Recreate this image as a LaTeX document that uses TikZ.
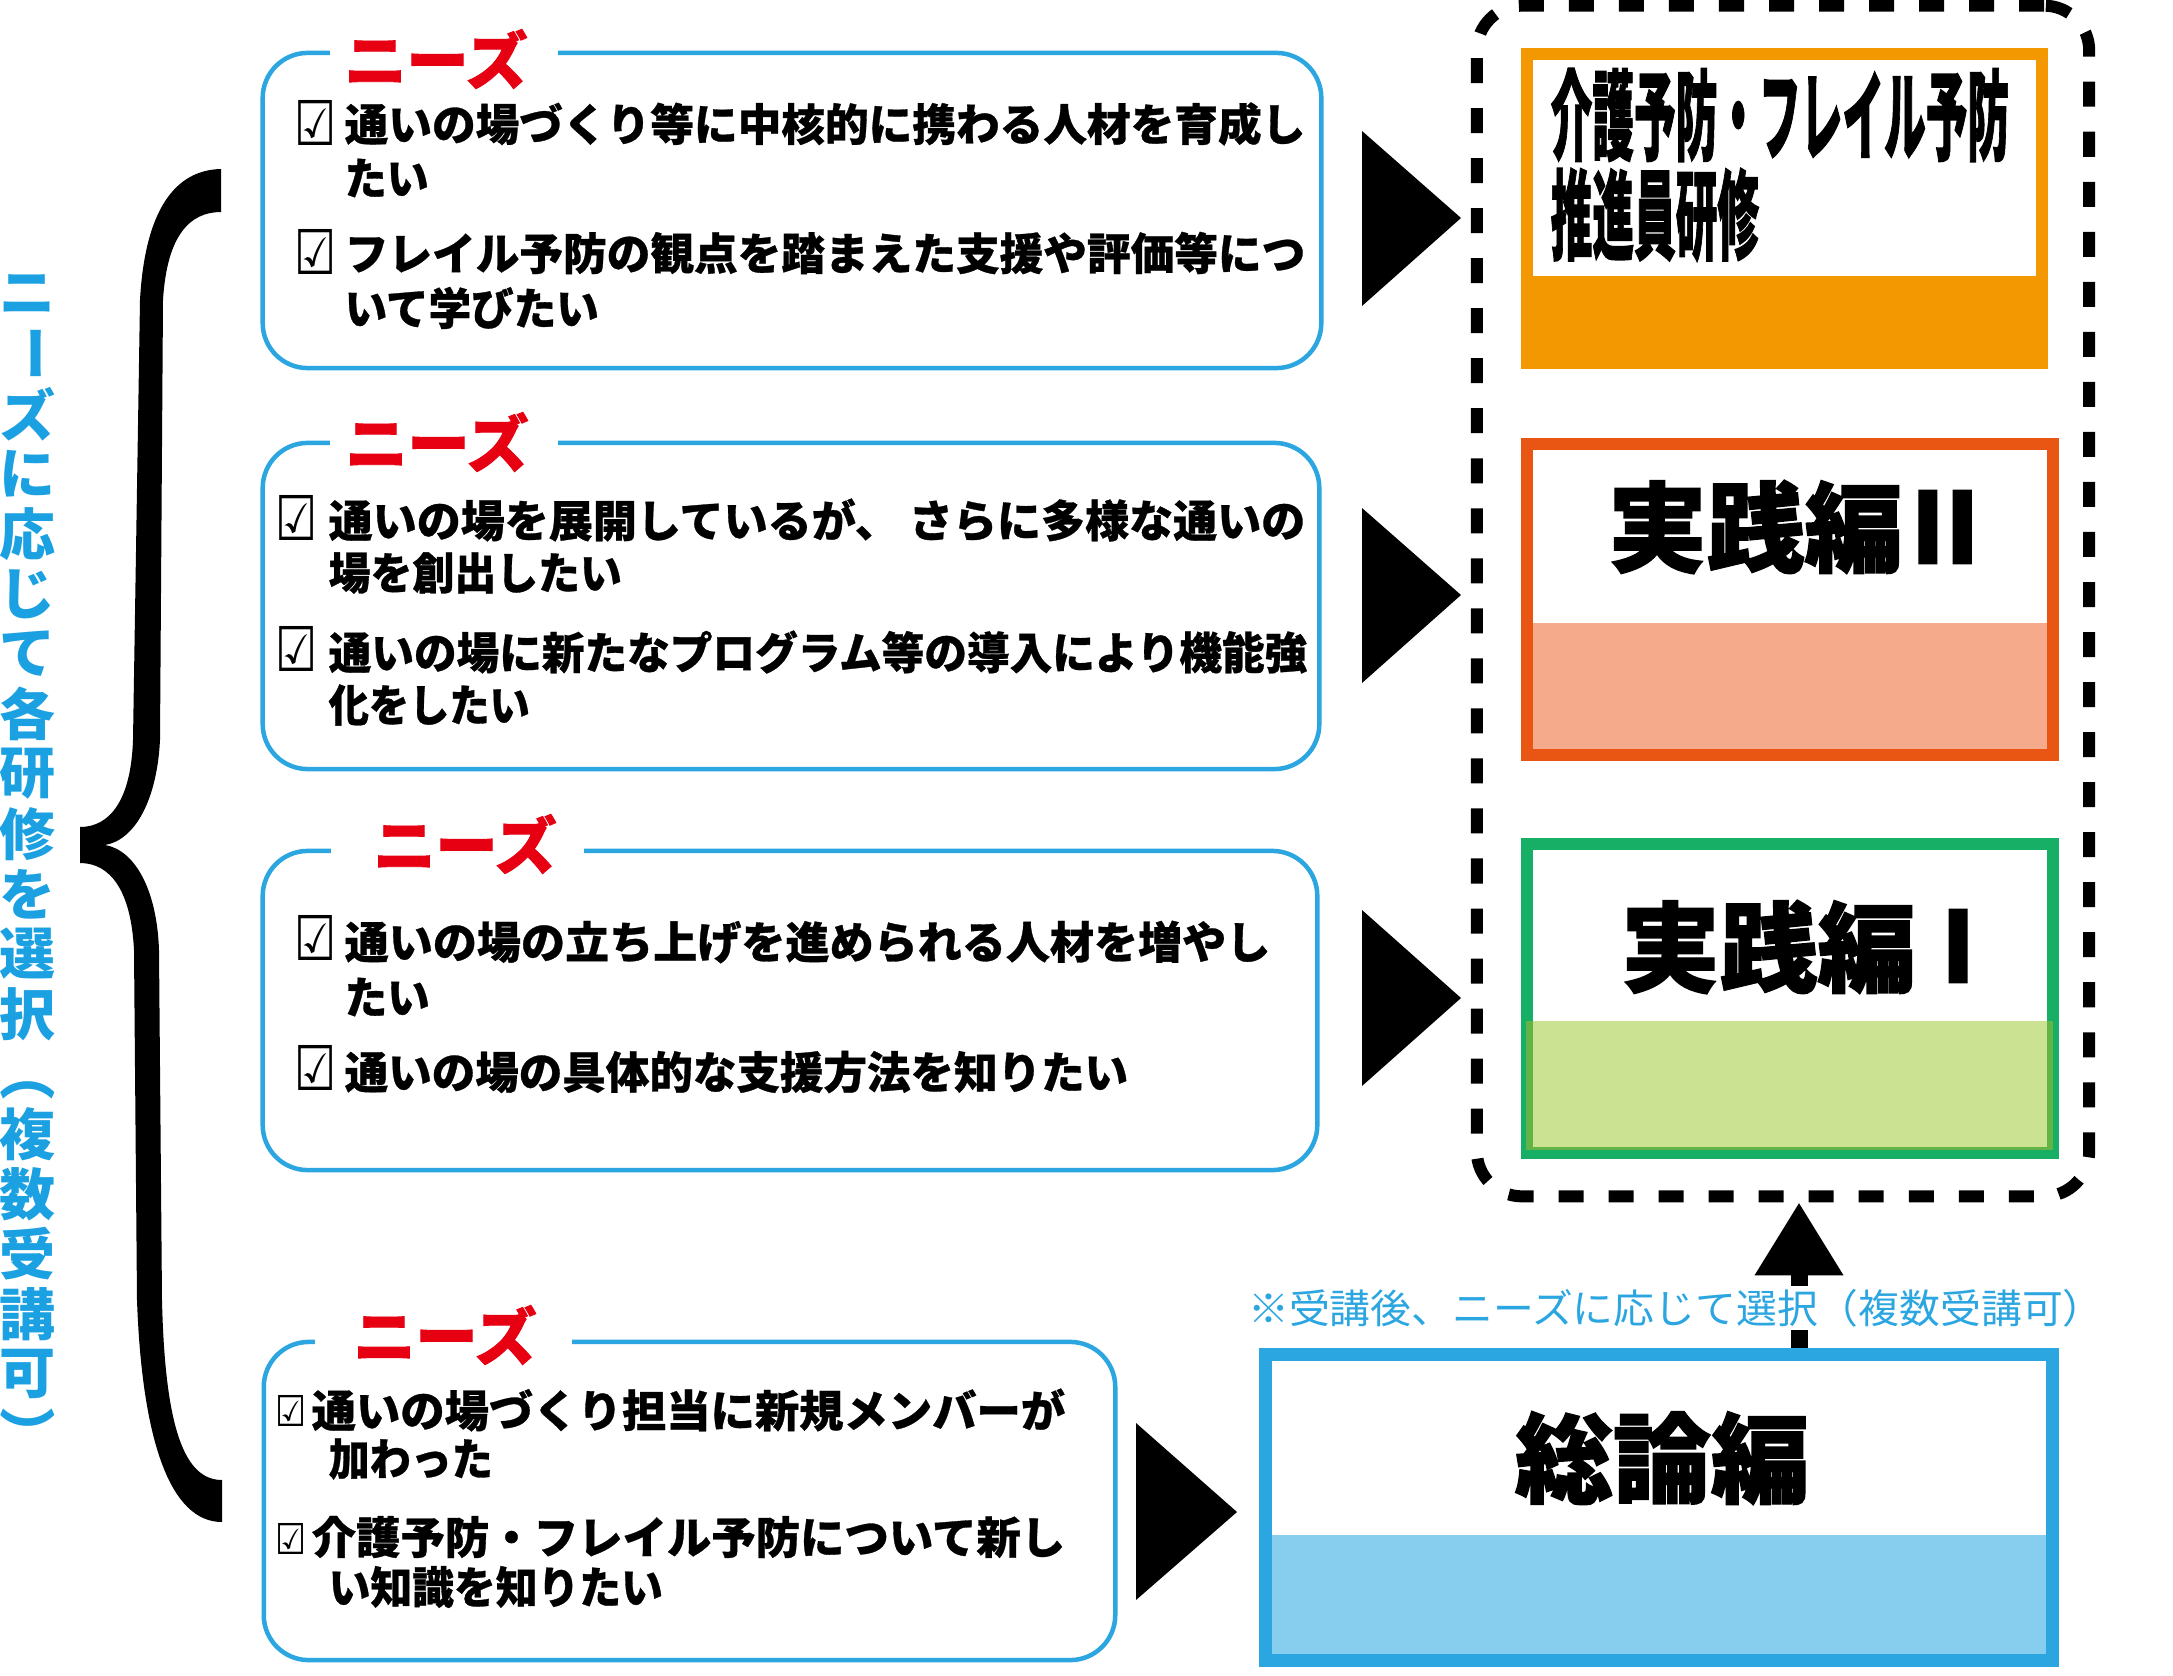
\documentclass[tikz,border=0pt]{standalone}
\usepackage{fontspec}
\usepackage{graphicx}
\usetikzlibrary{arrows.meta}
\newfontfamily\jp{Noto Sans CJK JP}
\newfontfamily\jpb{Noto Sans CJK JP}[BoldFeatures={FakeBold=0.7}]
\newfontfamily\jph{Noto Sans CJK JP}[BoldFeatures={FakeBold=1.5}]
\newfontfamily\dv{DejaVu Sans}
\definecolor{lineblue}{HTML}{2CA6E0}
\definecolor{vblue}{HTML}{1BA1E2}
\definecolor{nred}{HTML}{E60012}
\definecolor{korange}{HTML}{F39800}
\definecolor{jtwored}{HTML}{E95513}
\definecolor{jtwosalmon}{HTML}{F4AA8B}
\definecolor{jonegreen}{HTML}{17AE66}
\definecolor{jonelime}{HTML}{CAE292}
\definecolor{joneolive}{HTML}{62B446}
\definecolor{slight}{HTML}{86CDEE}
\newcommand{\vrot}[1]{\rotatebox[origin=c]{-90}{#1}}
\newcommand{\fitw}[2]{\resizebox{#1}{\height}{#2}}
\newcommand{\cbig}{\resizebox*{0.42cm}{0.45cm}{\dv ☑}}
\newcommand{\csmall}{\resizebox*{0.31cm}{0.31cm}{\dv ☑}}
\begin{document}
\begin{tikzpicture}[x=0.01cm,y=-0.01cm,
  needbox/.style={draw=lineblue, line width=0.045cm, rounded corners=0.45cm, inner sep=0},
  needs/.style={text=nred, font=\jph\bfseries\fontsize{0.62cm}{0.7cm}\selectfont, inner sep=0},
  txt/.style={font=\jpb\bfseries\fontsize{0.44cm}{0.5cm}\selectfont, inner sep=0, anchor=west},
  cbox/.style={inner sep=0},
  vtxt/.style={text=vblue, font=\jp\bfseries\fontsize{0.56cm}{0.6cm}\selectfont, inner sep=0},
  ttl/.style={font=\jph\bfseries\fontsize{0.98cm}{1.0cm}\selectfont, inner sep=0},
  tri/.style={fill=black}
]
\fill[white] (0,0) rectangle (2173,1676);
\useasboundingbox (0,0) rectangle (2173,1676);

% ---------- vertical label ----------
\foreach \c [count=\i from 0] in {ニ,\vrot{ー},ズ,に,応,じ,て,各,研,修,を,選,択,\vrot{（},複,数,受,講,可,\vrot{）}}
  \node[vtxt] (v\i) at (28,{294+60*\i}) {\c};

% ---------- brace ----------
\fill[black] (221,169) .. controls (175,170) and (145,210) .. (140,300)
  -- (133,740) .. controls (131,800) and (110,827) .. (80,827)
  -- (80,863) .. controls (110,863) and (131,890) .. (134,950)
  -- (137,1300) .. controls (142,1440) and (170,1522) .. (222,1522)
  -- (222,1480) .. controls (185,1480) and (165,1430) .. (162,1300)
  -- (159,950) .. controls (157,890) and (135,850) .. (105,845)
  .. controls (135,840) and (157,800) .. (160,740)
  -- (163,300) .. controls (167,235) and (190,212) .. (221,212) -- cycle;

% ---------- needs boxes ----------
\node[needbox, minimum width=10.58cm, minimum height=3.15cm] (b1) at (792,210.5) {};
\node[needbox, minimum width=10.56cm, minimum height=3.26cm] (b2) at (791,606) {};
\node[needbox, minimum width=10.54cm, minimum height=3.19cm] (b3) at (790,1010.5) {};
\node[needbox, minimum width=8.51cm, minimum height=3.18cm] (b4) at (689.5,1501) {};

\fill[white] (330,35) rectangle (558,75);
\fill[white] (330,425) rectangle (558,465);
\fill[white] (331,833) rectangle (584,873);
\fill[white] (315,1324) rectangle (572,1364);
\node[needs] (n1) at (436,59) {ニーズ};
\node[needs] (n2) at (437,442) {ニーズ};
\node[needs] (n3) at (465,844) {ニーズ};
\node[needs] (n4) at (445,1335) {ニーズ};

% box 1
\node[cbox] (c11) at (316,123) {\cbig};
\node[txt] (t11) at (344,124) {\fitw{9.60cm}{通いの場づくり等に中核的に携わる人材を育成し}};
\node[txt] (t12) at (344,178) {\fitw{0.84cm}{たい}};
\node[cbox] (c12) at (316,252) {\cbig};
\node[txt] (t13) at (344,253) {\fitw{9.60cm}{フレイル予防の観点を踏まえた支援や評価等につ}};
\node[txt] (t14) at (344,308) {\fitw{2.54cm}{いて学びたい}};
% box 2
\node[cbox] (c21) at (297,518) {\cbig};
\node[txt] (t21) at (328,520) {\fitw{9.76cm}{通いの場を展開しているが、 さらに多様な通いの}};
\node[txt] (t22) at (328,573) {\fitw{2.93cm}{場を創出したい}};
\node[cbox] (c22) at (297,649) {\cbig};
\node[txt] (t23) at (328,652) {\fitw{9.78cm}{通いの場に新たなプログラム等の導入により機能強}};
\node[txt] (t24) at (328,705) {\fitw{2.01cm}{化をしたい}};
% box 3
\node[cbox] (c31) at (316,938) {\cbig};
\node[txt] (t31) at (344,942) {\fitw{9.25cm}{通いの場の立ち上げを進められる人材を増やし}};
\node[txt] (t32) at (344,997) {\fitw{0.85cm}{たい}};
\node[cbox] (c32) at (316,1068) {\cbig};
\node[txt] (t33) at (344,1072) {\fitw{7.83cm}{通いの場の具体的な支援方法を知りたい}};
% box 4
\node[cbox] (c41) at (291,1411) {\csmall};
\node[txt] (t41) at (311,1410) {\fitw{7.53cm}{通いの場づくり担当に新規メンバーが}};
\node[txt] (t42) at (328,1459) {\fitw{1.64cm}{加わった}};
\node[cbox] (c42) at (291,1539) {\csmall};
\node[txt] (t43) at (311,1537) {\fitw{7.53cm}{介護予防・フレイル予防について新し}};
\node[txt] (t44) at (328,1587) {\fitw{3.34cm}{い知識を知りたい}};

% ---------- triangles ----------
\fill[tri] (1362,131) -- (1461,218) -- (1362,306) -- cycle;
\fill[tri] (1362,508) -- (1461,595) -- (1362,683) -- cycle;
\fill[tri] (1362,910) -- (1461,998) -- (1362,1086) -- cycle;
\fill[tri] (1136,1423) -- (1237,1512) -- (1136,1600) -- cycle;

% ---------- selection frame ----------
\node[draw=black, line width=0.12cm, dash pattern=on 0.25cm off 0.25cm,
      rounded corners=0.45cm, minimum width=6.12cm, minimum height=11.90cm, inner sep=0]
      (sel) at (1783,601) {};

% orange box
\node[draw=korange, fill=white, line width=0.12cm, minimum width=5.15cm, minimum height=3.09cm, inner sep=0] (kaigo) at (1784.5,208.5) {};
\fill[korange] (1527,276) rectangle (2042,363);
\node[ttl, anchor=west] (kt1) at (1550,115) {\scalebox{0.425}[1]{介護予防・フレイル予防}};
\node[ttl, anchor=west] (kt2) at (1550,215) {\scalebox{0.425}[1]{推進員研修}};

% jissen II
\node[draw=jtwored, fill=white, line width=0.12cm, minimum width=5.26cm, minimum height=3.11cm, inner sep=0] (j2) at (1790,599.5) {};
\fill[jtwosalmon] (1533,623) rectangle (2047,749);
\node[ttl] (j2a) at (1755.5,527) {実践編};
\node[ttl] (j2b) at (1945,527) {II};

% jissen I
\node[draw=jonegreen, fill=white, line width=0.12cm, minimum width=5.26cm, minimum height=3.09cm, inner sep=0] (j1) at (1790,998.5) {};
\fill[joneolive] (1526,1021) rectangle (2053,1150);
\fill[jonelime] (1533,1021) rectangle (2047,1147);
\node[ttl] (j1a) at (1768.5,947) {実践編};
\node[ttl] (j1b) at (1958,946) {I};

% soron
\node[draw=lineblue, fill=white, line width=0.13cm, minimum width=7.87cm, minimum height=3.06cm, inner sep=0] (soron) at (1659,1507.5) {};
\fill[slight] (1272,1535) rectangle (2046,1654);
\node[ttl] (st) at (1662,1458) {総論編};

% ---------- up arrow ----------
\coordinate (ax) at (1799,0);
\draw[line width=0.17cm, -{Triangle[length=0.73cm,width=0.84cm]}] (soron.north -| ax) -- (sel.south -| ax);
\node[fill=white, text=lineblue, font=\jp\fontsize{0.40cm}{0.45cm}\selectfont, inner xsep=0.02cm, inner ysep=0.03cm] (note) at (1676,1308)
  {\fitw{8.55cm}{※受講後、ニーズに応じて選択（複数受講可）}};
\end{tikzpicture}
\end{document}
